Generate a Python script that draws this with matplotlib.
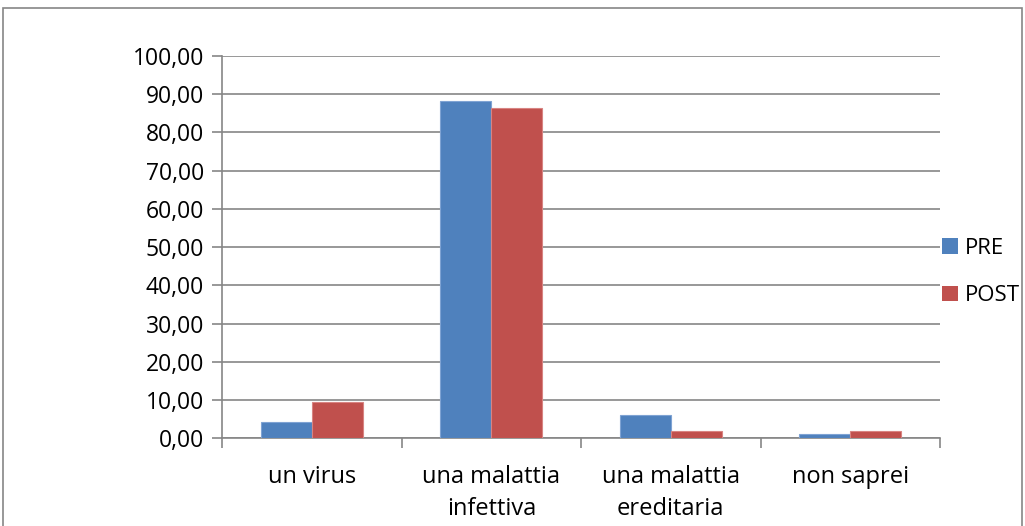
import matplotlib.pyplot as plt
import numpy as np
from matplotlib.patches import Rectangle, Patch

categories = ["un virus", "una malattia\ninfettiva", "una malattia\nereditaria", "non saprei"]
pre = [4.2, 88.3, 6.0, 1.1]
post = [9.4, 86.3, 2.0, 2.0]
yticks = [0, 10, 20, 30, 40, 50, 60, 70, 80, 90, 100]

plt.rcParams['font.family'] = ['Open Sans', 'DejaVu Sans']

fig = plt.figure(figsize=(10.25, 5.26), dpi=100)
ax = fig.add_axes([0.2166, 0.1667, 0.7005, 0.7268])

x = np.arange(len(categories))
w = 0.284
ax.bar(x - w / 2, pre, width=w, color='#4F81BD', edgecolor='#7FA3D3', linewidth=0.8, label='PRE', zorder=3)
ax.bar(x + w / 2, post, width=w, color='#C0504D', edgecolor='#D88482', linewidth=0.8, label='POST', zorder=3)

ax.set_xlim(-0.5, len(categories) - 0.5)
ax.set_ylim(0, 100)
ax.set_yticks(yticks)
ax.set_yticklabels([f"{v:.2f}".replace('.', ',') for v in yticks], fontsize=16.5)
ax.yaxis.grid(True, color='#868686', linewidth=1.2, zorder=0)

ax.set_xticks(np.arange(len(categories) + 1) - 0.5)
ax.set_xticklabels([])
ax.set_xticks(x, minor=True)
ax.set_xticklabels(categories, minor=True, fontsize=17, linespacing=1.45)
ax.tick_params(axis='x', which='major', length=7, color='#868686', width=1.2)
ax.tick_params(axis='x', which='minor', length=0, pad=19)
ax.tick_params(axis='y', length=7, color='#868686', width=1.2, pad=6)

for s in ['top', 'right']:
    ax.spines[s].set_visible(False)
for s in ['left', 'bottom']:
    ax.spines[s].set_color('#868686')
    ax.spines[s].set_linewidth(1.2)

handles = [Patch(facecolor='#4F81BD', label='PRE'), Patch(facecolor='#C0504D', label='POST')]
fig.legend(handles=handles, loc='center left', bbox_to_anchor=(0.915, 0.483), frameon=False,
           fontsize=16, handlelength=0.7, handleheight=0.7, handletextpad=0.3, labelspacing=1.2,
           borderpad=0.2, borderaxespad=0)

fig.patches.append(Rectangle((0.003, -0.01), 0.994, 0.995, transform=fig.transFigure,
                             fill=False, edgecolor='#868686', linewidth=1.2))

fig.savefig('out.png', dpi=100)
plt.close(fig)
